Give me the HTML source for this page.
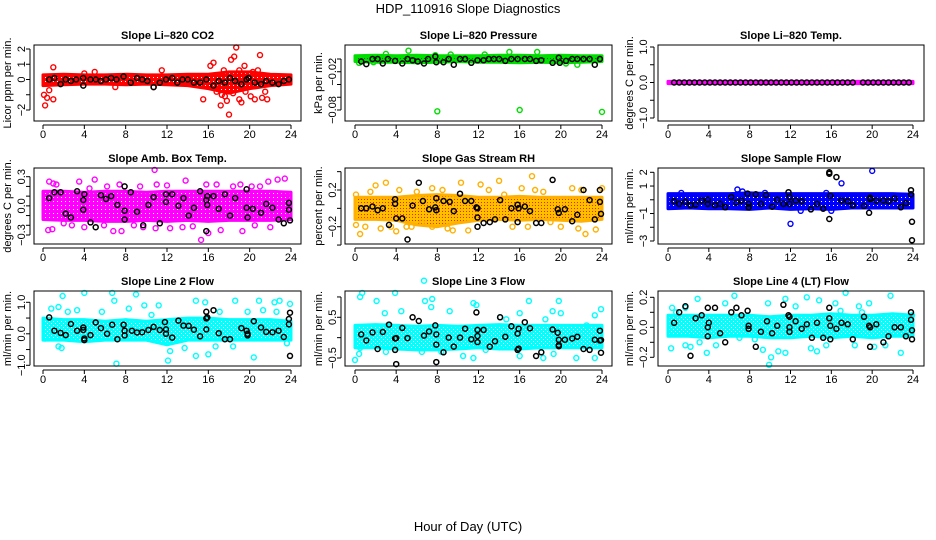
<!DOCTYPE html>
<html><head><meta charset="utf-8"><title>HDP_110916 Slope Diagnostics</title>
<style>
html,body{margin:0;padding:0;background:#fff;}
svg{display:block;font-family:"Liberation Sans",Arial,sans-serif;}
.t{font-weight:bold;font-size:11px;}
.tk{font-size:11px;}
</style></head>
<body>
<svg id="chart" width="936" height="540" viewBox="0 0 936 540">
<defs>
<pattern id="rhpat" width="3" height="3" patternUnits="userSpaceOnUse">
<rect width="3" height="3" fill="#ffc000"/><rect x="1" y="1" width="1" height="1" fill="#ff2000"/>
</pattern>
<pattern id="grpat" width="3" height="3" patternUnits="userSpaceOnUse">
<rect width="3" height="3" fill="#00e000"/><rect x="1" y="1" width="1" height="1" fill="#006000"/>
</pattern>
<pattern id="redpat" width="4" height="4" patternUnits="userSpaceOnUse">
<rect width="4" height="4" fill="#ff0000"/><rect x="1" y="1" width="1" height="1" fill="#fff"/>
</pattern>
<pattern id="magpat" width="4" height="4" patternUnits="userSpaceOnUse">
<rect width="4" height="4" fill="#ff00ff"/><rect x="1" y="1" width="1" height="1" fill="#fff"/>
</pattern>
<pattern id="bluepat" width="4" height="4" patternUnits="userSpaceOnUse">
<rect width="4" height="4" fill="#0000ff"/><rect x="1" y="1" width="1" height="1" fill="#fff"/>
</pattern>
<pattern id="cyanpat" width="4" height="4" patternUnits="userSpaceOnUse">
<rect width="4" height="4" fill="#00ffff"/><rect x="1" y="1" width="1" height="1" fill="#fff"/><rect x="3" y="3" width="1" height="1" fill="#fff"/>
</pattern>
</defs>
<text x="468" y="13" text-anchor="middle" font-size="13">HDP_110916  Slope Diagnostics</text>
<text x="468" y="531" text-anchor="middle" font-size="13">Hour of Day (UTC)</text>
</svg>
<script>
// ---- data ----
const xTicks = [0,4,8,12,16,20,24];
const bandHours = [0,2,4,6,8,10,12,14,16,18,20,22,24];

const co2BandHi = [0.3,0.35,0.3,0.3,0.35,0.3,0.3,0.35,0.35,0.5,0.5,0.35,0.3];
const co2BandLo = [-0.4,-0.35,-0.3,-0.3,-0.35,-0.3,-0.35,-0.4,-0.6,-0.9,-0.6,-0.4,-0.3];
const co2Pts = [[0.1,-1],[0.2,-1.7],[0.4,-1.2],[1,-1.3],[1,0.8],[0.6,-0.7],[5,0.5],[11.5,0.6],[15.5,-1.3],[16.2,0.9],[16.5,1.1],[17.2,-1.7],[17.5,0.6],[18,-2.3],[18.2,1.3],[18.7,2.1],[18.5,1.5],[19,-1.3],[19.2,-1.5],[19.5,0.9],[20.1,-1.1],[20.5,-1.3],[21,1.6],[21.2,-1.2],[21.7,-1.3],[20.8,0.6],[17.8,-1.4],[19,0.6],[16.8,-0.8],[10.7,-0.5],[4,0.4],[7,-0.5],[17.3,-1.0],[17.6,-1.1],[18.4,-0.9],[16.9,-0.6],[19.6,-0.8],[21.5,-0.8],[20.3,0.5]];
const co2Black = [[0.6,0],[1.1,0.1],[1.7,-0.3],[2.2,0],[2.7,-0.1],[3.2,0],[3.9,0.1],[3.9,-0.4],[4.6,0],[5.1,0],[5.6,-0.1],[6.1,0],[6.6,0.1],[7.1,0],[7.8,0.2],[8.5,-0.2],[9.1,0.1],[9.6,0],[10.1,-0.1],[10.7,-0.5],[11.3,-0.2],[11.9,0],[12.5,0.1],[13,-0.2],[13.5,0],[14,0],[14.6,-0.2],[15.2,-0.2],[15.8,0],[16.5,-0.4],[17,-0.1],[17.6,-0.2],[18.1,0.1],[18.6,-0.1],[19.2,-0.3],[19.7,0],[19.9,0.1],[20.5,-0.2],[21.1,-0.3],[21.6,-0.1],[22.2,-0.2],[22.8,-0.3],[23.3,-0.1],[23.8,0]];

const presBandHi = [0.005,0.006,0.005,0.006,0.005,0.005,0.005,0.006,0.006,0.005,0.006,0.005,0.005];
const presBandLo = [-0.004,-0.005,-0.005,-0.006,-0.005,-0.004,-0.005,-0.005,-0.006,-0.005,-0.006,-0.005,-0.004];
const presPts = [[5.2,0.013],[15,0.011],[17.7,0.011],[3,0.008],[7.8,0.006],[8,-0.082],[16,-0.08],[24,-0.083],[0.4,-0.006],[1.8,-0.005],[21.6,-0.009],[20.5,-0.007],[12.6,0.007],[9.3,0.007]];
const presBlack = [[0.6,-0.004],[1.1,-0.008],[1.7,0],[2.2,0],[2.7,-0.007],[3.2,0],[3.9,-0.003],[4.6,-0.007],[5.1,0],[5.6,-0.002],[6.1,-0.004],[6.7,-0.007],[7.1,0],[7.8,0.004],[7.9,-0.005],[8.6,-0.005],[9.1,0],[9.6,-0.009],[10.2,0],[10.7,0],[11.3,-0.006],[11.9,-0.002],[12.5,-0.002],[13,0],[13.5,0],[14,0],[14.6,-0.003],[15.2,0],[15.8,0],[16.5,0],[17,0],[17.6,-0.003],[18.1,-0.002],[19.2,-0.006],[19.8,0.002],[19.9,-0.006],[20.5,-0.003],[21.1,0],[21.6,0],[22.2,0],[22.8,0],[23.3,-0.009],[23.8,0]];

const tempBandHi = [0.03,0.03,0.03,0.03,0.03,0.03,0.03,0.03,0.03,0.03,0.03,0.03,0.03];
const tempBandLo = [-0.03,-0.03,-0.03,-0.03,-0.03,-0.03,-0.03,-0.03,-0.03,-0.03,-0.03,-0.03,-0.03];
const tempPts = [];
const tempBlack = [[0.6,0],[1.1,0],[1.6,0],[2.1,0],[2.6,0],[3.1,0],[3.6,0],[4.1,0],[4.6,0],[5.1,0],[5.6,0],[6.1,0],[6.6,0],[7.1,0],[7.6,0],[8.1,0],[8.6,0],[9.1,0],[9.6,0],[10.1,0],[10.6,0],[11.1,0],[11.6,0],[12.1,0],[12.6,0],[13.1,0],[13.6,0],[14.1,0],[14.6,0],[15.1,0],[15.6,0],[16.1,0],[16.6,0],[17.1,0],[17.6,0],[18.1,0],[19.1,0],[19.6,0],[20.1,0],[20.6,0],[21.1,0],[21.6,0],[22.1,0],[22.6,0],[23.1,0],[23.6,0]];

const ambBandHi = [0.15,0.15,0.14,0.15,0.15,0.14,0.15,0.15,0.15,0.15,0.15,0.15,0.14];
const ambBandLo = [-0.14,-0.15,-0.15,-0.16,-0.16,-0.15,-0.16,-0.15,-0.16,-0.15,-0.15,-0.15,-0.14];
const ambPts = [[0.6,0.25],[1,0.23],[0.5,-0.25],[0.9,-0.24],[5,0.27],[7.6,-0.26],[6.8,-0.26],[10.8,0.37],[11,0.22],[10.9,-0.23],[12.3,-0.23],[13.8,0.26],[16,-0.28],[15.3,-0.35],[17.2,-0.25],[19.3,-0.26],[19.1,0.22],[21,0.2],[22,-0.22],[22.7,0.27],[23.4,0.28],[21.8,0.25],[2.8,-0.2],[4,-0.22],[8.8,-0.2],[14.5,-0.21],[18.4,0.2],[7.4,0.22],[9.7,-0.22],[4.5,0.18],[3.5,0.25],[13.5,-0.22],[15.8,0.22],[20.5,-0.2],[9.4,0.2],[1.3,0.22],[6.2,0.2],[12,0.21],[16.8,0.22],[20.2,0.2],[2,-0.18],[5.9,-0.2]];
const ambBlack = [[0.6,0.08],[1.1,0.14],[1.7,0.14],[2.2,-0.08],[2.7,-0.12],[3.3,0.15],[3.9,0.06],[3.9,-0.04],[4,0.12],[4.6,-0.17],[5.1,-0.22],[5.6,0.11],[6.1,0.07],[6.6,0.1],[7.2,0.01],[7.9,0.2],[7.9,-0.05],[7.9,-0.14],[8.5,0.14],[9.1,-0.06],[9.7,-0.2],[10.2,0.01],[10.7,0.09],[11.3,-0.18],[11.9,0.12],[11.9,0.04],[12.5,0.12],[13.1,0],[13.6,0.08],[14.1,-0.1],[14.6,-0.02],[15.2,0.15],[15.8,0.06],[15.8,-0.26],[15.9,0.1],[15.9,0.01],[16.5,0.1],[17,-0.03],[17.6,0.12],[18.1,-0.1],[18.6,0.08],[19.7,0.17],[19.7,-0.02],[19.8,-0.12],[20.3,-0.03],[21.1,-0.07],[21.6,0.02],[22.2,-0.02],[22.8,-0.14],[23.3,-0.18],[23.8,0.03],[23.8,-0.04],[23.9,-0.15]];

const rhBandHi = [0.12,0.12,0.12,0.14,0.15,0.14,0.12,0.12,0.13,0.12,0.12,0.12,0.12];
const rhBandLo = [-0.12,-0.12,-0.13,-0.18,-0.2,-0.16,-0.13,-0.12,-0.13,-0.12,-0.13,-0.14,-0.12];
const rhPts = [[0.1,0.15],[0.1,-0.18],[0.5,-0.28],[1,-0.2],[1.5,0.18],[2,0.25],[2.5,-0.22],[3,0.28],[3.5,-0.2],[4,-0.25],[4.3,0.2],[5,-0.2],[6,0.18],[6.5,-0.15],[7.5,0.22],[8.5,0.2],[9,-0.22],[9.5,-0.24],[10.3,0.28],[11,-0.24],[12.2,0.26],[13,0.2],[14,0.3],[14.5,0.15],[15.3,-0.2],[16.2,0.22],[16.8,-0.2],[17.2,0.35],[17.5,0.2],[18.3,0.18],[19,-0.15],[20,-0.2],[21.1,0.22],[21.7,-0.22],[22,0.2],[22.4,-0.28],[23.4,-0.23],[24,0.22],[5.5,-0.2],[7.5,-0.2]];
const rhBlack = [[0.6,0.0],[1.1,0.0],[1.7,0.02],[2.2,-0.02],[2.7,0.0],[3.3,-0.18],[3.9,0.1],[3.9,0.05],[4,-0.11],[4.6,-0.11],[5.1,-0.34],[5.6,0.03],[6.2,0.28],[6.6,0.08],[7.2,-0.01],[7.8,0.01],[7.9,0.11],[7.9,-0.02],[8.6,0.08],[9.2,0.07],[9.6,-0.03],[10.2,0.16],[10.7,0.08],[11.3,0.08],[11.8,0.01],[11.9,-0.1],[11.9,0],[11.9,-0.2],[12.5,-0.16],[13.1,-0.15],[13.6,-0.12],[14.1,0.09],[14.6,-0.12],[15.2,0.0],[15.8,0.04],[15.8,-0.15],[15.9,0.0],[16.5,0.02],[17,-0.03],[17.6,-0.16],[18.1,-0.16],[19.2,0.31],[19.7,-0.01],[19.8,-0.05],[20.4,-0.01],[21.1,-0.14],[21.6,-0.07],[22.2,0.2],[22.8,0.09],[23.3,-0.12],[23.8,0.2],[23.8,0.07],[23.9,-0.06]];

const sfBandHi = [0.45,0.45,0.45,0.45,0.5,0.45,0.45,0.45,0.45,0.45,0.45,0.45,0.4];
const sfBandLo = [-0.65,-0.6,-0.65,-0.65,-0.7,-0.6,-0.7,-0.65,-0.7,-0.6,-0.6,-0.6,-0.6];
const sfPts = [[6.8,0.75],[7.3,0.6],[12,-1.75],[17,1.2],[20,2.1],[15.5,0.5],[9.5,0.5],[1.3,0.5],[13,-0.8],[16,-0.8]];
const sfBlack = [[0.6,-0.1],[1.1,-0.3],[1.7,-0.15],[2.2,-0.4],[2.7,-0.35],[3.3,-0.05],[3.9,0],[3.9,-0.3],[4.6,-0.4],[5.1,-0.3],[5.6,-0.55],[6.2,0.2],[6.7,-0.2],[7.2,-0.05],[7.8,0.45],[7.9,-0.3],[7.9,-0.55],[8.6,0.4],[9.1,-0.3],[9.6,0.35],[10.2,-0.5],[10.7,0],[11.3,-0.3],[11.8,0.55],[11.9,-0.3],[11.9,0.2],[12.5,-0.05],[13.1,-0.1],[14,-0.7],[14.6,-0.3],[15.2,-0.65],[15.8,2],[15.8,1.9],[15.8,-1.4],[15.9,0.3],[16.5,1.65],[17,-0.05],[17.6,-0.1],[18.1,-0.4],[19.2,-0.45],[19.7,-0.95],[19.8,0.15],[19.8,0.05],[20.4,-0.05],[21.1,-0.05],[21.6,-0.1],[22.2,0.1],[22.8,-0.55],[23.3,-0.25],[23.8,0.7],[23.8,0.4],[23.9,-1.6],[23.9,-2.95]];

const l2BandHi = [0.5,0.45,0.45,0.4,0.45,0.4,0.45,0.5,0.5,0.45,0.45,0.45,0.4];
const l2BandLo = [-0.2,-0.2,-0.25,-0.2,-0.2,-0.2,-0.35,-0.2,-0.2,-0.2,-0.2,-0.2,-0.2];
const l2Pts = [[1.9,1.2],[4,1.3],[6.7,1.3],[6.9,1.05],[9,1.25],[7.1,-0.95],[12.1,-0.85],[14.8,1.05],[15.7,1],[14.8,-0.7],[16,-0.65],[18.6,1.05],[20.9,1.05],[20.4,-0.75],[22.4,1],[22.9,1.05],[23.9,0.95],[1.5,0.85],[1.5,-0.4],[1.8,-0.45],[0.2,-0.15],[3.3,0.75],[5.7,0.7],[8.3,0.8],[9.8,0.9],[11.2,0.9],[12.3,-0.55],[13.7,-0.45],[16.7,-0.4],[17.1,0.7],[19.8,0.7],[21.3,0.75],[22.6,0.7],[2.4,0.7],[0.8,0.8],[10.5,0.6],[18.4,-0.4],[23.6,-0.3]];
const l2Black = [[0.6,0.52],[1.1,0.1],[1.7,0.03],[2.2,-0.04],[2.7,0.31],[3.3,0.1],[3.9,0.2],[3.9,0.12],[4,-0.2],[4,-0.15],[4.6,-0.04],[5.1,0.36],[5.6,0.18],[6.2,0.0],[6.7,0.29],[7.2,-0.17],[7.8,0.29],[7.9,0.1],[7.9,-0.05],[8.6,0.1],[9.1,0.04],[9.6,0.05],[10.2,0.12],[10.7,0.22],[11.3,0.12],[11.8,0.37],[11.9,0.14],[11.9,0.0],[12.5,-0.12],[13.1,0.42],[13.6,0.26],[14.1,0.25],[14.6,0.13],[15.2,-0.08],[15.8,0.7],[15.8,0.49],[15.8,0.14],[15.9,0.52],[16.5,0.75],[17,0.02],[17.6,-0.17],[18.1,-0.17],[19.2,0.18],[19.7,0.1],[19.8,0.0],[19.8,-0.05],[20.4,0.4],[21.1,0.2],[21.6,0.06],[22.2,0.05],[22.8,0.1],[23.3,-0.1],[23.8,0.3],[23.8,0.47],[23.9,0.67],[23.9,-0.7]];

const l3BandHi = [0.3,0.32,0.3,0.28,0.3,0.28,0.3,0.32,0.3,0.3,0.3,0.3,0.3];
const l3BandLo = [-0.25,-0.25,-0.28,-0.3,-0.3,-0.28,-0.25,-0.28,-0.28,-0.25,-0.25,-0.25,-0.25];
const l3Pts = [[0.5,1.0],[0.7,1.1],[3.9,1.1],[6.7,1.4],[6.8,0.9],[7.5,0.95],[7.4,0.75],[2.1,0.9],[2.9,0.6],[4.5,0.65],[9.2,0.65],[11.5,0.85],[11.8,0.8],[14.1,0.5],[16,0.6],[16.9,0.9],[18.5,0.45],[19.2,0.65],[19.8,0.9],[20,0.6],[23.3,0.55],[23.9,0.7],[0,-0.55],[0.4,-0.4],[0.5,-0.25],[3,-0.35],[6.5,-0.35],[8.4,-0.35],[10.5,-0.45],[11.5,-0.5],[12.7,-0.3],[16,-0.45],[18.3,-0.5],[19.3,-0.4],[21.5,-0.5],[23.3,-0.5],[14.7,0.45],[3.2,0.3],[22.5,0.3]];
const l3Black = [[0.6,0.08],[1.1,-0.07],[1.7,0.13],[2.2,-0.28],[2.7,0.14],[3.3,0.32],[3.9,-0.02],[3.9,-0.3],[4,-0.65],[4,-0.01],[4.6,0.24],[5.1,-0.01],[5.6,0.5],[6.2,0.41],[6.7,0.05],[7.2,0.15],[7.8,0.3],[7.9,0.08],[7.9,-0.17],[7.9,-0.6],[8.6,-0.36],[9.1,0],[9.6,-0.22],[10.2,0.0],[10.7,0.22],[11.3,-0.04],[11.8,0.62],[11.9,0.19],[11.9,0.04],[11.9,-0.11],[12.5,0.19],[13.1,-0.22],[13.6,-0.09],[14.1,0.5],[14.6,0.02],[15.2,0.28],[15.8,0.1],[15.8,-0.3],[15.9,0.22],[15.9,-0.27],[16.5,0.38],[17,0.23],[17.6,-0.45],[18.1,-0.36],[19.2,0.2],[19.7,0.12],[19.8,-0.05],[19.8,-0.18],[19.8,-0.21],[20.4,-0.05],[21.1,-0.02],[21.6,0.02],[22.2,-0.28],[22.8,-0.3],[23.3,-0.05],[23.8,0.17],[23.8,-0.07],[23.9,-0.06],[23.9,-0.37]];

const l4BandHi = [0.08,0.08,0.08,0.08,0.08,0.07,0.08,0.08,0.09,0.08,0.08,0.09,0.08];
const l4BandLo = [-0.06,-0.06,-0.07,-0.06,-0.06,-0.07,-0.07,-0.06,-0.07,-0.06,-0.07,-0.06,-0.06];
const l4Pts = [[0.3,-0.14],[0.4,0.13],[1.7,0.13],[2.9,0.19],[1.7,-0.12],[2.2,-0.13],[3.1,-0.1],[3.8,-0.17],[5.6,0.16],[6.5,0.21],[8.5,-0.08],[9.3,-0.15],[9.9,-0.25],[10.1,-0.2],[9.8,0.16],[10.8,-0.16],[11.5,0.19],[11.5,-0.17],[13.6,0.2],[14,-0.14],[14.6,-0.16],[14.8,0.18],[16.4,0.16],[16.9,0.11],[17.4,0.23],[18.7,0.14],[19.7,0.16],[20.2,-0.13],[21.8,0.21],[22.8,-0.17],[23.9,0.08],[0.8,0.1],[4.7,-0.12],[12.5,0.14],[15.5,-0.12],[18.3,-0.12],[21.3,-0.12],[7,-0.07],[19,0.1]];
const l4Black = [[0.6,0.03],[1.1,0.1],[1.7,0.14],[2.2,-0.19],[2.7,0.06],[3.3,0.08],[3.9,0.13],[3.9,0],[3.9,-0.06],[4,0.03],[4.6,0.13],[5.1,-0.04],[5.6,-0.1],[6.2,0.1],[6.7,0.13],[7.2,0.08],[7.8,0.11],[7.9,0.01],[7.9,-0.01],[8.6,-0.13],[9.1,-0.03],[9.7,0.04],[10.2,-0.04],[10.7,0.01],[11.3,0.15],[11.8,0.08],[11.9,0.07],[11.9,0.0],[11.9,-0.03],[12.5,0.04],[13.1,-0.01],[13.6,0.02],[14.1,-0.07],[14.6,0.03],[15.2,-0.07],[15.8,0.13],[15.8,0.06],[15.9,0.01],[15.9,-0.08],[16.5,-0.01],[17,0.03],[17.6,0.02],[18.1,-0.08],[19.2,0.07],[19.7,0.01],[19.8,-0.13],[19.8,0],[20.4,0.02],[21.1,-0.1],[21.6,-0.06],[22.2,0],[22.8,0],[23.3,-0.06],[23.8,0.1],[23.8,0.05],[23.9,-0.02],[23.9,-0.08]];

const co2YTicks = [-2,-1,0,1,2];            const co2YLabels = ["-2","","0","1","2"];
const presYTicks = [0,-0.02,-0.04,-0.06,-0.08]; const presYLabels = ["","-0.02","","","-0.08"];
const tempYTicks = [-1,-0.5,0,0.5,1];       const tempYLabels = ["-1.0","","0.0","","1.0"];
const ambYTicks = [-0.3,-0.2,-0.1,0,0.1,0.2,0.3]; const ambYLabels = ["-0.3","","","0.0","","","0.3"];
const rhYTicks = [-0.4,-0.2,0,0.2,0.4];     const rhYLabels = ["","-0.2","","0.2",""];
const sfYTicks = [-3,-2,-1,0,1,2];          const sfYLabels = ["-3","","-1","","1","2"];
const l2YTicks = [-1,-0.5,0,0.5,1];         const l2YLabels = ["-1.0","","0.0","","1.0"];
const l3YTicks = [-0.5,0,0.5,1];            const l3YLabels = ["-0.5","","0.5",""];
const l4YTicks = [-0.2,-0.1,0,0.1,0.2];     const l4YLabels = ["-0.2","","0.0","","0.2"];

// ---- layout (geometry only) ----
const cols = [{l:34,r:301,x0:43,x24:291,yl:11,tl:25},{l:345,r:612,x0:355,x24:602,yl:322,tl:336},{l:658,r:924,x0:668,x24:913,yl:633,tl:647}];
const rows = [{t:45,b:121},{t:168,b:244},{t:291,b:366}];
const panels = [
 {name:"co2",title:"Slope Li\u2013820 CO2",ylab:"Licor ppm per min.",c:0,r:0,col:"#ff0000",fill:"url(#redpat)",band:[co2BandLo,co2BandHi],pts:co2Pts,blk:co2Black,yt:co2YTicks,yl:co2YLabels,ym:[2,49,-2,110]},
 {name:"pressure",title:"Slope Li\u2013820 Pressure",ylab:"kPa per min.",c:1,r:0,col:"#00dd00",fill:"url(#grpat)",band:[presBandLo,presBandHi],pts:presPts,blk:presBlack,yt:presYTicks,yl:presYLabels,ym:[0,59,-0.08,110]},
 {name:"temp",title:"Slope Li\u2013820 Temp.",ylab:"degrees C per min.",c:2,r:0,col:"#ff00ff",fill:"#ff00ff",band:[tempBandLo,tempBandHi],pts:tempPts,blk:tempBlack,yt:tempYTicks,yl:tempYLabels,ym:[1,47,-1,118]},
 {name:"amb-box-temp",title:"Slope Amb. Box Temp.",ylab:"degrees C per min.",c:0,r:1,col:"#ff00ff",fill:"url(#magpat)",band:[ambBandLo,ambBandHi],pts:ambPts,blk:ambBlack,yt:ambYTicks,yl:ambYLabels,ym:[0.3,176.7,-0.3,235]},
 {name:"gas-stream-rh",title:"Slope Gas Stream RH",ylab:"percent per min.",c:1,r:1,col:"#ffb000",fill:"url(#rhpat)",band:[rhBandLo,rhBandHi],pts:rhPts,blk:rhBlack,yt:rhYTicks,yl:rhYLabels,ym:[0.2,190,-0.2,226.7]},
 {name:"sample-flow",title:"Slope Sample Flow",ylab:"ml/min per min.",c:2,r:1,col:"#0000ff",fill:"url(#bluepat)",band:[sfBandLo,sfBandHi],pts:sfPts,blk:sfBlack,yt:sfYTicks,yl:sfYLabels,ym:[2,172.3,-3,241]},
 {name:"line2-flow",title:"Slope Line 2 Flow",ylab:"ml/min per min.",c:0,r:2,col:"#00ffff",fill:"url(#cyanpat)",band:[l2BandLo,l2BandHi],pts:l2Pts,blk:l2Black,yt:l2YTicks,yl:l2YLabels,ym:[1,302.3,-1,365.3]},
 {name:"line3-flow",title:"Slope Line 3 Flow",ylab:"ml/min per min.",c:1,r:2,col:"#00ffff",fill:"url(#cyanpat)",band:[l3BandLo,l3BandHi],pts:l3Pts,blk:l3Black,yt:l3YTicks,yl:l3YLabels,ym:[0.5,317.3,-0.5,358]},
 {name:"line4-flow",title:"Slope Line 4 (LT) Flow",ylab:"ml/min per min.",c:2,r:2,col:"#00ffff",fill:"url(#cyanpat)",band:[l4BandLo,l4BandHi],pts:l4Pts,blk:l4Black,yt:l4YTicks,yl:l4YLabels,ym:[0.2,297.3,-0.2,357.3]}
];

const NS = "http://www.w3.org/2000/svg";
const svg = document.getElementById("chart");
function mk(tag, attrs, parent){const e=document.createElementNS(NS,tag);for(const k in attrs)e.setAttribute(k,attrs[k]);(parent||svg).appendChild(e);return e;}

panels.forEach(p=>{
  const C=cols[p.c], R=rows[p.r];
  const g=mk("g",{});
  
  
  const xs=h=>C.x0+(C.x24-C.x0)*h/24;
  const ys=v=>p.ym[1]+(v-p.ym[0])*(p.ym[3]-p.ym[1])/(p.ym[2]-p.ym[0]);
  const lo=p.band[0], hi=p.band[1];
  let d="";
  bandHours.forEach((h,i)=>{d+=(i?"L":"M")+xs(h).toFixed(1)+","+ys(hi[i]).toFixed(1);});
  for(let i=bandHours.length-1;i>=0;i--){d+="L"+xs(bandHours[i]).toFixed(1)+","+ys(lo[i]).toFixed(1);}
  d+="Z";
  const band=mk("path",{d:d,fill:p.fill,stroke:p.col,"stroke-width":3,"stroke-linejoin":"round"},g);
  
  
  p.pts.forEach(pt=>{
    const c=mk("circle",{cx:xs(pt[0]).toFixed(1),cy:ys(pt[1]).toFixed(1),r:2.5,fill:"none",stroke:p.col,"stroke-width":1.4},g);
    
    
  });
  p.blk.forEach(pt=>{
    const c=mk("circle",{cx:xs(pt[0]).toFixed(1),cy:ys(pt[1]).toFixed(1),r:2.5,fill:"none",stroke:"#000","stroke-width":1.5},g);
    
    
  });
  const box=mk("rect",{x:C.l,y:R.t,width:C.r-C.l,height:R.b-R.t,fill:"none",stroke:"#000","stroke-width":1},g);
  
  
  const t=mk("text",{x:(C.l+C.r)/2,y:R.t-6,"text-anchor":"middle",class:"t"},g);
  t.textContent=p.title;
  
  
  mk("line",{x1:xs(0),x2:xs(24),y1:R.b+4,y2:R.b+4,stroke:"#000","stroke-width":1},g);
  xTicks.forEach(h=>{
    mk("line",{x1:xs(h),x2:xs(h),y1:R.b+4,y2:R.b+8,stroke:"#000","stroke-width":1},g);
    const tx=mk("text",{x:xs(h),y:R.b+17,"text-anchor":"middle",class:"tk"},g);
    tx.textContent=String(h);
    
    
  });
  const yTop=ys(p.yt[p.yt.length-1]), yBot=ys(p.yt[0]);
  mk("line",{x1:C.l-4,x2:C.l-4,y1:Math.min(yTop,yBot),y2:Math.max(yTop,yBot),stroke:"#000","stroke-width":1},g);
  p.yt.forEach((v,i)=>{
    const y=ys(v);
    mk("line",{x1:C.l-8,x2:C.l-4,y1:y,y2:y,stroke:"#000","stroke-width":1},g);
    if(p.yl[i]){
      const tx=mk("text",{x:C.tl,y:y,"text-anchor":"middle",class:"tk",transform:"rotate(-90 "+C.tl+" "+y+")"},g);
      tx.textContent=p.yl[i].replace("-","\u2212");
      
      
    }
  });
  const cy=(R.t+R.b)/2;
  const yl=mk("text",{x:C.yl,y:cy,"text-anchor":"middle","font-size":"11",transform:"rotate(-90 "+C.yl+" "+cy+")"},g);
  yl.textContent=p.ylab;
  
  
});
</script>
</body></html>
